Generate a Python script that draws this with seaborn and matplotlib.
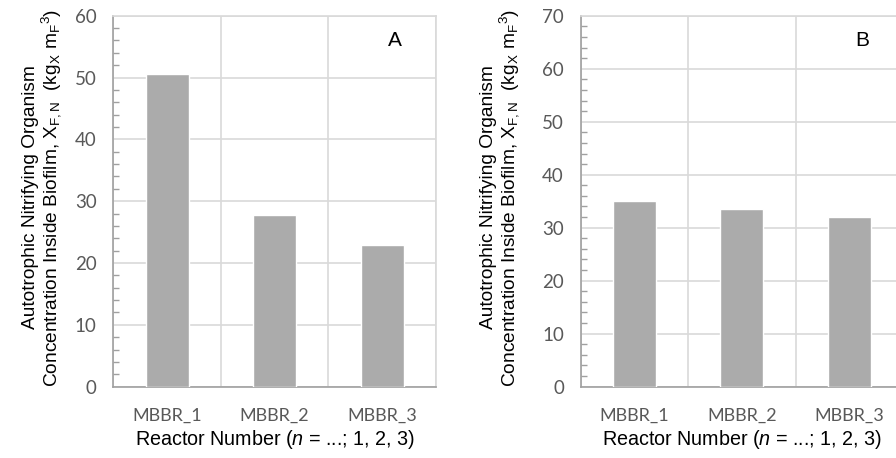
import matplotlib
matplotlib.use("Agg")
import matplotlib.pyplot as plt
from matplotlib.ticker import AutoMinorLocator, MultipleLocator
import seaborn as sns
import pandas as pd

reactors = ["MBBR_1", "MBBR_2", "MBBR_3"]
conc_a = [50.5, 27.7, 22.9]
conc_b = [35.1, 33.6, 32.0]
ymax_a = 60
ymax_b = 70
panel_tags = ["A", "B"]

sns.set_theme(style="white")
plt.rcParams["font.family"] = ["Liberation Sans", "DejaVu Sans"]
plt.rcParams["mathtext.fontset"] = "custom"
plt.rcParams["mathtext.rm"] = "Liberation Sans"
plt.rcParams["mathtext.it"] = "Liberation Sans:italic"

BAR = "#ababab"
GRID = "#d9d9d9"
SPINE = "#a0a0a0"
TICKTXT = "#595959"

ylab = ("Autotrophic Nitrifying Organism\n"
        r"Concentration Inside Biofilm, X$_{\mathrm{F,N}}$  (kg$_{\mathrm{X}}$ m$_{\mathrm{F}}$$^{\mathrm{3}}$)")
xlab = r"Reactor Number ($\it{n}$ = ...; 1, 2, 3)"

fig = plt.figure(figsize=(8.96, 4.58), dpi=100)
ax_a = fig.add_axes([0.1265, 0.1557, 0.360, 0.810])
ax_b = fig.add_axes([0.648, 0.1557, 0.360, 0.810])

for ax, vals, ymax, tag, ylx in [(ax_a, conc_a, ymax_a, panel_tags[0], -0.156),
                                 (ax_b, conc_b, ymax_b, panel_tags[1], -0.185)]:
    df = pd.DataFrame({"reactor": reactors, "conc": vals})
    sns.barplot(data=df, x="reactor", y="conc", color=BAR, saturation=1,
                width=0.4, ax=ax, zorder=3)
    ax.set_xlim(-0.5, len(reactors) - 0.5)
    ax.set_ylim(0, ymax)

    # category boundaries carry the ticks and vertical grid; labels sit at centres
    ax.set_xticks([i - 0.5 for i in range(len(reactors) + 1)])
    ax.set_xticklabels([])
    ax.set_xticks(range(len(reactors)), minor=True)
    ax.set_xticklabels(reactors, minor=True)
    ax.tick_params(axis="x", which="major", direction="out", length=5,
                   color=SPINE, width=1)
    ax.tick_params(axis="x", which="minor", length=0, pad=15,
                   labelsize=13, labelcolor=TICKTXT, labelfontfamily="Lato")

    ax.yaxis.set_major_locator(MultipleLocator(10))
    ax.yaxis.set_minor_locator(AutoMinorLocator(5))
    ax.tick_params(axis="y", which="major", direction="out", length=6,
                   color=SPINE, width=1, pad=6,
                   labelsize=13.5, labelcolor=TICKTXT, labelfontfamily="Lato")
    ax.tick_params(axis="y", which="minor", direction="in", length=4,
                   color=SPINE, width=1, left=True)

    ax.grid(True, which="major", color=GRID, linewidth=1.2, zorder=0)
    ax.set_axisbelow(True)
    for side in ["top", "right"]:
        ax.spines[side].set_color(GRID)
        ax.spines[side].set_linewidth(1.2)
    for side in ["left", "bottom"]:
        ax.spines[side].set_color(SPINE)
        ax.spines[side].set_linewidth(1.2)

    ax.set_xlabel(xlab, fontsize=14.2, color="black", labelpad=3)
    ax.set_ylabel(ylab, fontsize=13.8, color="black", linespacing=1.0)
    ax.yaxis.set_label_coords(ylx, 0.51)
    ax.text(0.874, 0.932, tag, transform=ax.transAxes, fontsize=15,
            ha="center", va="center", color="black")

fig.savefig("out.png", dpi=100, facecolor="white")
